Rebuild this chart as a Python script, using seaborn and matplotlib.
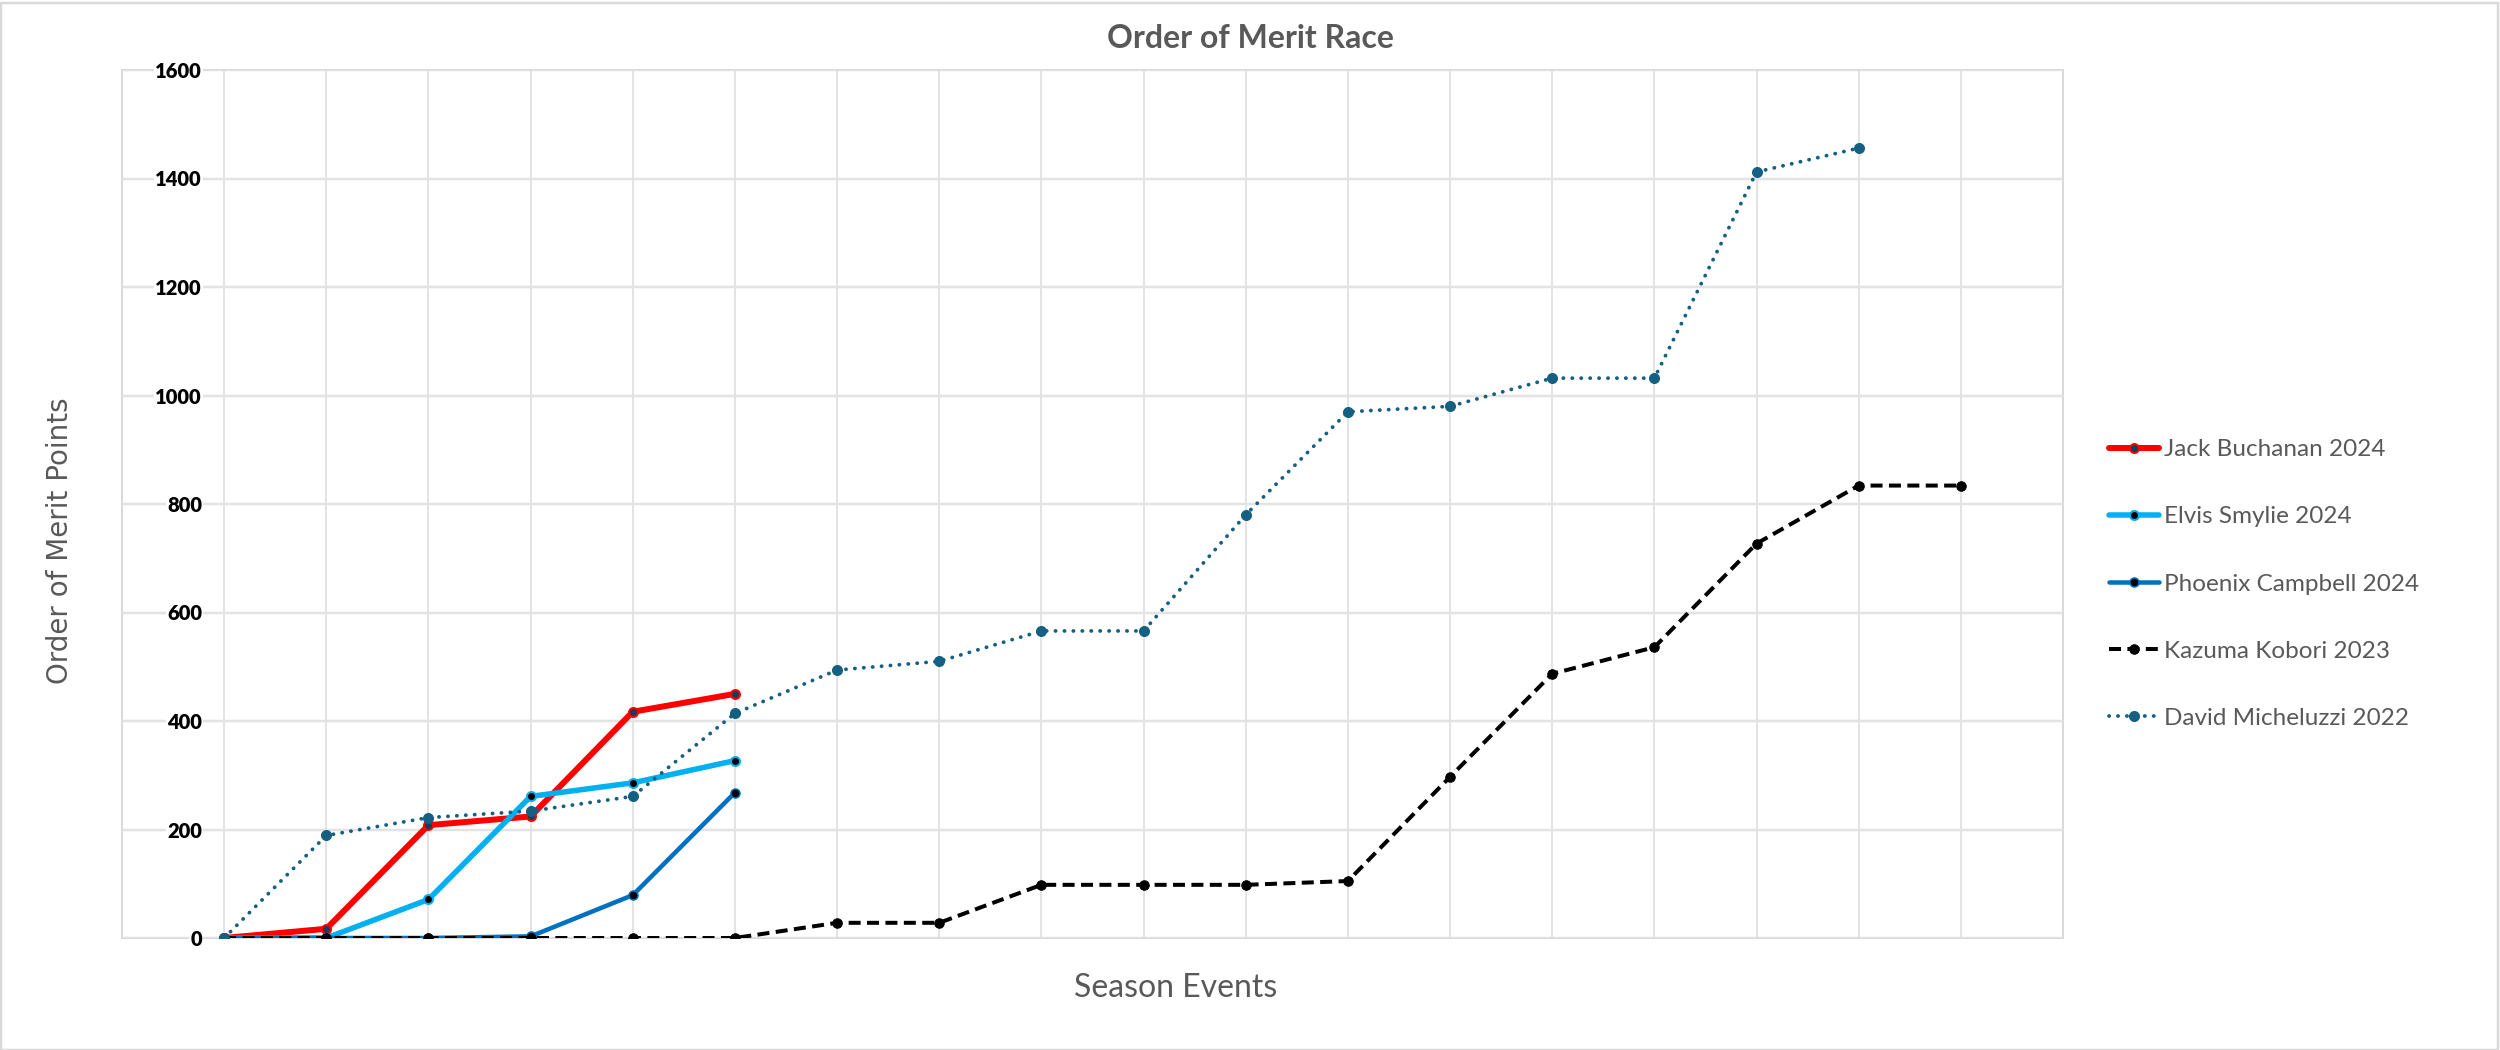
import matplotlib
matplotlib.use("Agg")
import matplotlib.pyplot as plt
import seaborn as sns
import numpy as np
import pandas as pd
from matplotlib.patches import Rectangle

# ---- data ----
events = list(range(1, 19))
jack_buchanan_2024 = [0, 17, 208, 224, 417, 450]
elvis_smylie_2024 = [0, 0, 71, 261, 286, 327]
phoenix_campbell_2024 = [0, 0, 0, 3, 79, 268]
kazuma_kobori_2023 = [0, 0, 0, 0, 0, 0, 28, 28, 98, 98, 98, 105, 297, 487, 536, 727, 834, 834]
david_micheluzzi_2022 = [0, 189, 222, 234, 261, 414, 494, 510, 566, 566, 780, 970, 980, 1032, 1032, 1412, 1456]
series_labels = ["Jack Buchanan 2024", "Elvis Smylie 2024", "Phoenix Campbell 2024",
                 "Kazuma Kobori 2023", "David Micheluzzi 2022"]
y_ticks = [0, 200, 400, 600, 800, 1000, 1200, 1400, 1600]

sns.set_theme(style="white")
plt.rcParams['font.family'] = ['Lato', 'DejaVu Sans']

W, H = 2500, 1050
fig = plt.figure(figsize=(W / 100, H / 100), dpi=100)
ax = fig.add_axes([122 / W, 1 - 938 / H, (2063 - 122) / W, (938 - 70) / H])

px = 72 / 100  # points per pixel

styles = [
    dict(color="#FF0000", linewidth=6 * px, linestyle="-", marker="o", markersize=9 * px,
         markerfacecolor="#163E56", markeredgecolor="#FF0000", markeredgewidth=2 * px),
    dict(color="#00B0F0", linewidth=5.5 * px, linestyle="-", marker="o", markersize=9 * px,
         markerfacecolor="#000000", markeredgecolor="#00B0F0", markeredgewidth=2 * px),
    dict(color="#0070C0", linewidth=4.5 * px, linestyle="-", marker="o", markersize=9 * px,
         markerfacecolor="#000000", markeredgecolor="#0070C0", markeredgewidth=1.5 * px),
    dict(color="#000000", linewidth=4 * px, linestyle=(0, (3, 1.6)), marker="o", markersize=9.5 * px,
         markerfacecolor="#000000", markeredgecolor="#000000", markeredgewidth=1 * px),
    dict(color="#156082", linewidth=3.8 * px, linestyle=(0, (0.05, 2.3)), dash_capstyle="round",
         marker="o", markersize=10 * px,
         markerfacecolor="#156082", markeredgecolor="#156082", markeredgewidth=1 * px),
]

all_series = [jack_buchanan_2024, elvis_smylie_2024, phoenix_campbell_2024,
              kazuma_kobori_2023, david_micheluzzi_2022]

for i, (vals, lab, st) in enumerate(zip(all_series, series_labels, styles)):
    df = pd.DataFrame({"event": events[:len(vals)], "points": vals})
    sns.lineplot(data=df, x="event", y="points", ax=ax, label=lab, zorder=3 + i, **st)

ax.set_xlim(0, 19)
ax.set_ylim(0, 1600)
ax.set_xticks(events)
ax.set_xticklabels([])
ax.set_yticks(y_ticks)
ax.set_yticklabels([str(t) for t in y_ticks], fontsize=14.5, fontweight="heavy", color="black")
ax.tick_params(axis="y", length=0, pad=-80 * px)
for lab in ax.get_yticklabels():
    lab.set_horizontalalignment("right")
    lab.set_bbox(dict(facecolor="white", edgecolor="none", pad=1))
ax.tick_params(axis="x", length=0)
ax.set_xlabel("")
ax.set_ylabel("")

ax.grid(True, axis="x", color="#DDDDDD", linewidth=1.6 * px)
ax.grid(True, axis="y", color="#E3E3E3", linewidth=2.5 * px)
ax.set_axisbelow(False)
for sp in ax.spines.values():
    sp.set_color("#D9D9D9")
    sp.set_linewidth(2 * px)

if ax.get_legend() is not None:
    ax.get_legend().remove()
handles, labels = ax.get_legend_handles_labels()
leg = fig.legend(handles, labels, loc="center left", bbox_to_anchor=(2109 / W, 1 - 584 / H),
                 bbox_transform=fig.transFigure, frameon=False, fontsize=17.5,
                 handlelength=2.05, handletextpad=0.2, labelspacing=1.9,
                 borderpad=0, borderaxespad=0)
for t in leg.get_texts():
    t.set_color("#595959")

fig.text(0.5, 1 - 48 / H, "Order of Merit Race", ha="center", va="baseline",
         fontsize=23, fontweight="bold", color="#595959",
         family=["Liberation Sans Narrow", "Lato"])
fig.text(1176 / W, 1 - 997 / H, "Season Events", ha="center", va="baseline",
         fontsize=23, color="#595959")
fig.text(60 / W, 1 - 541 / H, "Order of Merit Points", ha="center", va="center",
         rotation=90, fontsize=20, color="#595959", family=["DejaVu Sans"])

fig.patches.append(Rectangle((0.5 / W, 0.5 / H), 1 - 3 / W, 1 - 3 / H, transform=fig.transFigure,
                             fill=False, edgecolor="#D9D9D9", linewidth=2.5 * px))

fig.savefig("out.png", dpi=100, facecolor="white")
